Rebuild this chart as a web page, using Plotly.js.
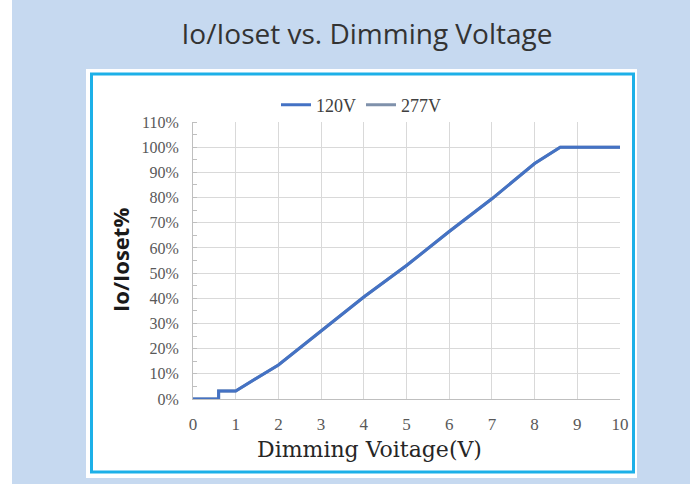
<!DOCTYPE html>
<html>
<head>
<meta charset="utf-8">
<script src="https://cdn.plot.ly/plotly-3.0.1.min.js"></script>
<style>html,body{margin:0;padding:0;background:#fff;}#chart{width:697px;height:484px;}</style>
</head>
<body>
<div id="chart"></div>
<script>
// Data
const voltage = [0, 0.6, 0.6, 1.0, 2, 3, 4, 5, 6, 7, 8, 8.6, 10];
const io120 = [0, 0, 0.032, 0.032, 0.135, 0.27, 0.405, 0.53, 0.665, 0.795, 0.935, 1.0, 1.0];
const io277 = [0, 0, 0.032, 0.032, 0.135, 0.27, 0.405, 0.53, 0.665, 0.795, 0.935, 1.0, 1.0];
const seriesNames = ['120V', '277V'];
const xTicks = [0,1,2,3,4,5,6,7,8,9,10];
const yTicks = [0,0.1,0.2,0.3,0.4,0.5,0.6,0.7,0.8,0.9,1.0,1.1];
const yTickText = ['0%','10%','20%','30%','40%','50%','60%','70%','80%','90%','100%','110%'];

const serif = 'Liberation Serif, DejaVu Serif, serif';
const traces = [
  {x: voltage, y: io277, name: seriesNames[1], type: 'scatter', mode: 'lines',
   line: {color: '#7f91ab', width: 3}, legendrank: 2, cliponaxis: false},
  {x: voltage, y: io120, name: seriesNames[0], type: 'scatter', mode: 'lines',
   line: {color: '#4472c4', width: 3}, legendrank: 1, cliponaxis: false}
];

const W = 427, H = 277, L = 193, T = 122;
const px = p => (p - L) / W;
const py = p => (T + H - p) / H;

const layout = {
  width: 697, height: 484,
  margin: {l: L, r: 697 - L - W, t: T, b: 484 - T - H, pad: 0},
  paper_bgcolor: '#ffffff',
  plot_bgcolor: 'rgba(0,0,0,0)',
  showlegend: true,
  title: {text: 'Io/Ioset vs. Dimming Voltage', font: {family: 'Open Sans, Noto Sans, sans-serif', size: 28, color: '#333333'},
          xref: 'container', yref: 'container', x: 367/697, xanchor: 'center', y: 1 - 34/484, yanchor: 'middle'},
  legend: {orientation: 'h', x: px(361), xanchor: 'center', y: py(105), yanchor: 'middle',
           font: {family: serif, size: 18, color: '#404040'}, bgcolor: 'rgba(0,0,0,0)', traceorder: 'normal'},
  xaxis: {range: [0, 10], tickvals: xTicks, ticktext: xTicks.map(String), showgrid: true, gridcolor: '#d9d9d9', gridwidth: 1,
          zeroline: false, showline: true, linecolor: '#bfbfbf', linewidth: 1, ticks: '', ticklabelstandoff: 10,
          tickfont: {family: serif, size: 17, color: '#595959'}, fixedrange: true},
  yaxis: {range: [0, 1.1], tickvals: yTicks, ticktext: yTickText, showgrid: true, gridcolor: '#d9d9d9', gridwidth: 1,
          zeroline: false, showline: true, linecolor: '#bfbfbf', linewidth: 1, ticks: '', ticklabelstandoff: 10,
          minor: {ticks: 'inside', dtick: 0.05, ticklen: 4, tickcolor: '#bfbfbf', showgrid: false},
          tickfont: {family: serif, size: 16, color: '#595959'}, fixedrange: true},
  annotations: [
    {text: 'Dimming Voitage(V)', xref: 'paper', yref: 'paper', x: px(369), y: py(449), xanchor: 'center', yanchor: 'middle',
     showarrow: false, font: {family: 'DejaVu Serif, Liberation Serif, serif', size: 22, color: '#262626'}},
    {text: '<b>Io/Ioset%</b>', xref: 'paper', yref: 'paper', x: px(120), y: py(260), xanchor: 'center', yanchor: 'middle',
     textangle: -90, showarrow: false, font: {family: 'Open Sans, Noto Sans, sans-serif', size: 22, color: '#1a1a1a'}}
  ],
  shapes: [
    {type: 'rect', xref: 'paper', yref: 'paper', x0: px(12), x1: px(690), y0: py(490), y1: py(-5), fillcolor: '#c6d9f0', line: {width: 0}, layer: 'below'},
    {type: 'rect', xref: 'paper', yref: 'paper', x0: px(86), x1: px(637), y0: py(478), y1: py(69), fillcolor: '#ffffff', line: {width: 0}, layer: 'below'},
    {type: 'rect', xref: 'paper', yref: 'paper', x0: px(91.5), x1: px(633.5), y0: py(472), y1: py(74), fillcolor: 'rgba(0,0,0,0)', line: {width: 3, color: '#1cb0e8'}, layer: 'below'}
  ]
};

Plotly.newPlot('chart', traces, layout, {displayModeBar: false, staticPlot: true});
</script>
</body>
</html>
